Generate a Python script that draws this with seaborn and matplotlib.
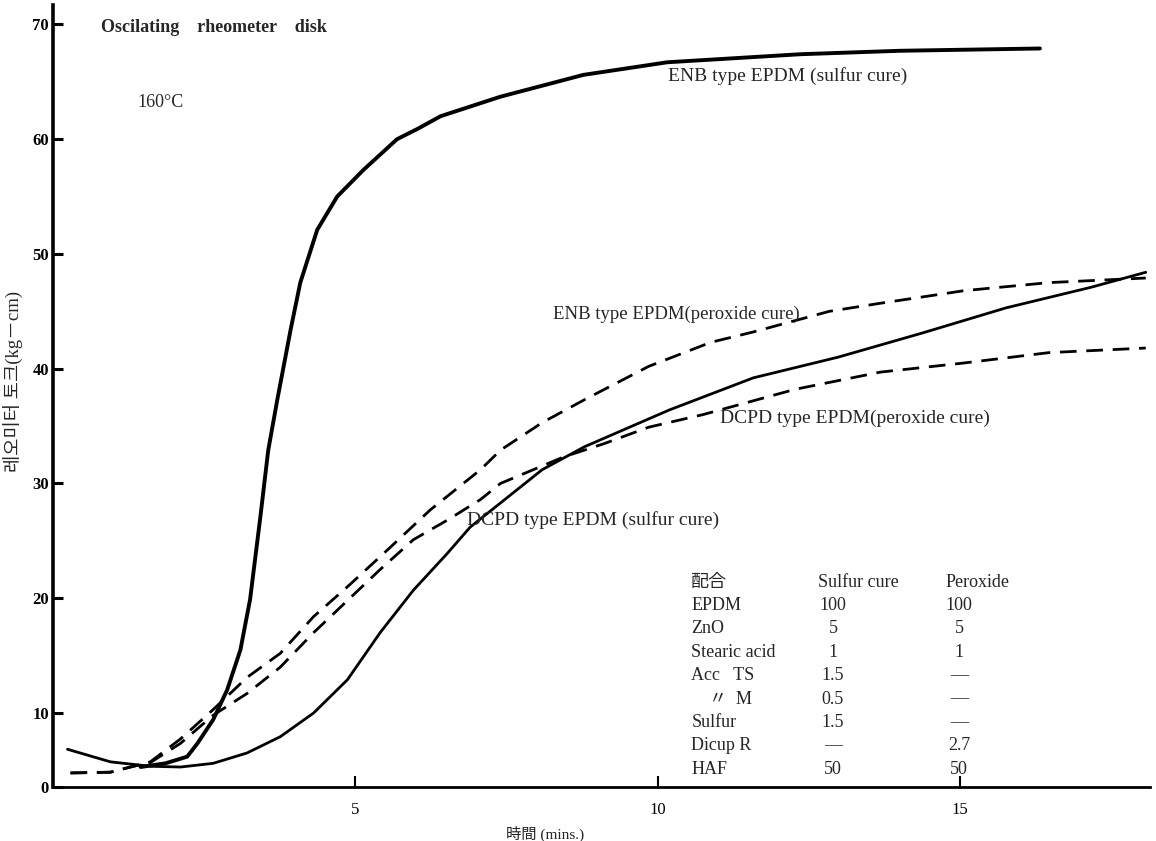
import numpy as np
import matplotlib
matplotlib.use("Agg")
import matplotlib.pyplot as plt
import seaborn as sns

# Cure curves (time in min, torque in kg-cm)
enb_sulfur_t = [1.45, 1.86, 2.22, 2.39, 2.65, 2.88, 3.10, 3.26, 3.43, 3.56, 3.71, 3.93,
                4.09, 4.37, 4.70, 5.13, 5.69, 6.03, 6.41, 7.40, 8.77, 10.16, 12.36, 14.0, 16.32]
enb_sulfur_y = [2.7, 3.2, 4.1, 5.9, 9.1, 12.0, 15.5, 19.9, 27.1, 32.9, 37.3, 43.4,
                47.5, 52.1, 55.0, 57.3, 60.0, 60.9, 62.0, 63.7, 65.6, 66.7, 67.4, 67.7, 67.9]

dcpd_sulfur_t = [0.24, 0.95, 1.61, 2.11, 2.65, 3.21, 3.76, 4.31, 4.87, 5.41, 5.96, 6.52,
                 6.90, 7.40, 8.09, 8.79, 10.19, 11.58, 12.98, 14.37, 15.76, 17.17, 18.07]
dcpd_sulfur_y = [5.1, 3.4, 2.8, 2.7, 3.2, 4.6, 6.8, 10.0, 12.9, 17.0, 20.7, 23.9,
                 26.2, 28.3, 31.2, 33.2, 36.4, 39.2, 41.0, 43.1, 45.3, 47.1, 48.4]

enb_perox_t = [0.29, 0.95, 1.33, 1.61, 2.11, 2.65, 3.21, 3.76, 4.31, 4.87, 5.53, 6.24,
               7.07, 7.40, 8.09, 8.79, 9.85, 10.88, 11.58, 12.84, 13.68, 15.07, 16.47, 18.07]
enb_perox_y = [1.9, 2.0, 2.8, 3.4, 6.5, 10.3, 13.1, 15.2, 18.4, 21.0, 24.2, 27.7,
               31.2, 32.9, 35.3, 37.3, 40.2, 42.3, 43.2, 45.0, 45.7, 46.8, 47.5, 47.9]

dcpd_perox_t = [0.29, 0.95, 1.33, 1.61, 2.11, 2.65, 3.21, 3.76, 4.31, 4.87, 5.41, 5.96,
                6.52, 7.07, 7.40, 8.44, 9.13, 9.85, 10.75, 12.27, 13.68, 15.07, 16.47, 18.07]
dcpd_perox_y = [1.9, 2.0, 2.8, 3.3, 5.9, 9.7, 11.7, 14.0, 17.0, 19.8, 22.5, 25.1,
                26.8, 28.6, 30.0, 32.3, 33.5, 34.9, 36.0, 38.2, 39.7, 40.5, 41.4, 41.8]

x_ticks = [5, 10, 15]
y_ticks = [0, 10, 20, 30, 40, 50, 60, 70]

# recipe table
recipe_items = ["配合", "EPDM", "ZnO", "Stearic acid", "Acc   TS", "    〃  M",
                "Sulfur", "Dicup R", "HAF"]
sulfur_vals = ["Sulfur cure", "100", "5", "1", "1.5", "0.5", "1.5", "—", "50"]
perox_vals = ["Peroxide", "100", "5", "1", "—", "—", "—", "2.7", "50"]

sns.set_theme(style="ticks")
plt.rcParams["font.family"] = ["Liberation Serif", "Noto Sans CJK KR"]

fig = plt.figure(figsize=(11.56, 8.41), dpi=100)
ax = fig.add_axes([0.0458, 0.0642, 0.949, 0.930])

# the original axis squeezes the 0-10 band
k = 0.645
def fwd(v):
    v = np.asarray(v, dtype=float)
    return np.where(v >= 10, v, 10 - (10 - v) * k)
def inv(v):
    v = np.asarray(v, dtype=float)
    return np.where(v >= 10, v, 10 - (10 - v) / k)

dash = (0, (6, 3.5))
sns.lineplot(x=enb_sulfur_t, y=enb_sulfur_y, ax=ax, color="black", linewidth=2.8)
sns.lineplot(x=dcpd_sulfur_t, y=dcpd_sulfur_y, ax=ax, color="black", linewidth=2.0)
sns.lineplot(x=enb_perox_t, y=enb_perox_y, ax=ax, color="black", linewidth=2.0, linestyle=dash)
sns.lineplot(x=dcpd_perox_t, y=dcpd_perox_y, ax=ax, color="black", linewidth=2.0, linestyle=dash)

ax.set_yscale("function", functions=(fwd, inv))
ax.set_xlim(0, 18.14)
ax.set_ylim(0, 71.7)
ax.set_xticks(x_ticks)
ax.set_yticks(y_ticks)
ax.set_yticklabels([str(v) for v in y_ticks], fontsize=12, fontweight="bold")
ax.set_xticklabels([str(v) for v in x_ticks], fontsize=12)
ax.tick_params(axis="y", direction="in", length=7, width=2.2, pad=3, colors="black")
ax.tick_params(axis="x", direction="in", length=8, width=1.5, pad=11, colors="black")
ax.minorticks_off()

sns.despine(ax=ax)
ax.spines["left"].set_linewidth(2.6)
ax.spines["bottom"].set_linewidth(2.0)
ax.spines["left"].set_color("black")
ax.spines["bottom"].set_color("black")

ax.set_xlabel("時間 (mins.)", fontsize=11)
ax.xaxis.set_label_coords(0.449, -0.049)
ax.set_ylabel("레오미터 토크(kg－cm)", fontsize=13.5)
ax.yaxis.set_label_coords(-0.026, 0.518)

ax.text(0.79, 69.7, "Oscilating    rheometer    disk", fontsize=13, fontweight="bold", va="center")
ax.text(1.40, 63.2, "160°C", fontsize=13, va="center")

lab_fs = 14
ax.text(10.17, 65.5, "ENB type EPDM (sulfur cure)", fontsize=lab_fs, va="center")
ax.text(8.27, 44.7, "ENB type EPDM(peroxide cure)", fontsize=13.5, va="center")
ax.text(11.03, 35.7, "DCPD type EPDM(peroxide cure)", fontsize=lab_fs, va="center")
ax.text(6.85, 26.8, "DCPD type EPDM (sulfur cure)", fontsize=lab_fs, va="center")

tab_fs = 13
row_top, row_step = 0.262, 0.0299
for i, (item, sv, pv) in enumerate(zip(recipe_items, sulfur_vals, perox_vals)):
    yy = row_top - i * row_step
    ax.text(0.582, yy, item, transform=ax.transAxes, fontsize=tab_fs, va="center")
    if i == 0:
        ax.text(0.697, yy, sv, transform=ax.transAxes, fontsize=tab_fs, va="center")
        ax.text(0.814, yy, pv, transform=ax.transAxes, fontsize=tab_fs, va="center")
    else:
        ax.text(0.711, yy, sv, transform=ax.transAxes, fontsize=tab_fs, va="center", ha="center")
        ax.text(0.826, yy, pv, transform=ax.transAxes, fontsize=tab_fs, va="center", ha="center")

fig.savefig("out.png", dpi=100, facecolor="white")
